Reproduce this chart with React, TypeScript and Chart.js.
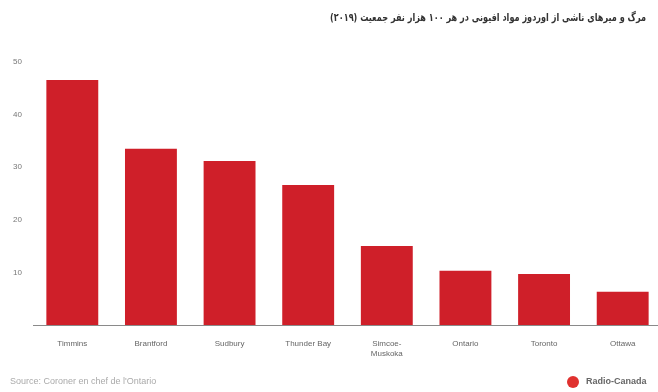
import React, { useEffect, useRef } from "react";
import { Chart, registerables } from "chart.js";

Chart.register(...registerables);

const categories: (string | string[])[] = [
  "Timmins",
  "Brantford",
  "Sudbury",
  "Thunder Bay",
  ["Simcoe-", "Muskoka"],
  "Ontario",
  "Toronto",
  "Ottawa",
];
const deaths: number[] = [46.6, 33.5, 31.2, 26.6, 15.0, 10.3, 9.7, 6.3];
const yTicks: number[] = [10, 20, 30, 40, 50];
const titleText = "مرگ و میرهای ناشی از اوردوز مواد افیونی در هر ۱۰۰ هزار نفر جمعیت (۲۰۱۹)";
const sourceText = "Source: Coroner en chef de l'Ontario";
const logoText = "Radio-Canada";

const decorPlugin = {
  id: "decor",
  afterDraw(chart: any) {
    const ctx = chart.ctx as CanvasRenderingContext2D;
    ctx.save();
    // title (RTL), fitted to the reference width
    ctx.direction = "rtl";
    ctx.textAlign = "right";
    ctx.textBaseline = "middle";
    ctx.fillStyle = "#333333";
    ctx.font = "bold 11px 'DejaVu Sans'";
    const w = ctx.measureText(titleText).width;
    const targetW = 316;
    const sx = Math.min(1, targetW / w);
    ctx.save();
    ctx.translate(646, 18);
    ctx.scale(sx, 1);
    ctx.fillText(titleText, 0, 0);
    ctx.restore();
    // source
    ctx.direction = "ltr";
    ctx.textAlign = "left";
    ctx.fillStyle = "#aaaaaa";
    ctx.font = "9px 'Liberation Sans'";
    ctx.fillText(sourceText, 10, 382);
    // logo
    ctx.fillStyle = "#e0312f";
    ctx.beginPath();
    ctx.arc(573, 382, 6, 0, Math.PI * 2);
    ctx.fill();
    ctx.fillStyle = "#666666";
    ctx.font = "bold 9px 'Liberation Sans'";
    ctx.fillText(logoText, 586, 382);
    ctx.restore();
  },
};

export default function App() {
  const ref = useRef<HTMLCanvasElement | null>(null);
  useEffect(() => {
    document.body.style.margin = "0";
    const canvas = ref.current!;
    const chart = new Chart(canvas, {
      type: "bar",
      data: {
        labels: categories,
        datasets: [
          {
            data: deaths,
            backgroundColor: "#cf1f29",
            borderWidth: 0,
            categoryPercentage: 1,
            barPercentage: 0.66,
          },
        ],
      },
      options: {
        responsive: false,
        animation: false,
        layout: { padding: { top: 62, right: 8, left: 0, bottom: 0 } },
        plugins: {
          legend: { display: false },
          tooltip: { enabled: false },
          title: { display: false },
        },
        scales: {
          x: {
            grid: { display: false },
            border: { display: true, color: "#8a8a8a", width: 1 },
            ticks: {
              color: "#666666",
              font: { size: 8, family: "'Liberation Sans'" },
              padding: 6,
              maxRotation: 0,
              autoSkip: false,
            },
            afterFit(scale: any) {
              scale.height = 67;
            },
          },
          y: {
            min: 0,
            max: 50,
            grid: { display: false },
            border: { display: false },
            afterBuildTicks(scale: any) {
              scale.ticks = yTicks.map((v) => ({ value: v }));
            },
            ticks: {
              color: "#777777",
              font: { size: 8, family: "'Liberation Sans'" },
              padding: 3,
            },
            afterFit(scale: any) {
              scale.width = 33;
            },
          },
        },
      },
      plugins: [decorPlugin],
    });
    return () => chart.destroy();
  }, []);
  return (
    <div style={{ width: 658, height: 392, overflow: "hidden", position: "relative", background: "#fff" }}>
      <canvas ref={ref} width={670} height={392} style={{ display: "block" }} />
    </div>
  );
}
